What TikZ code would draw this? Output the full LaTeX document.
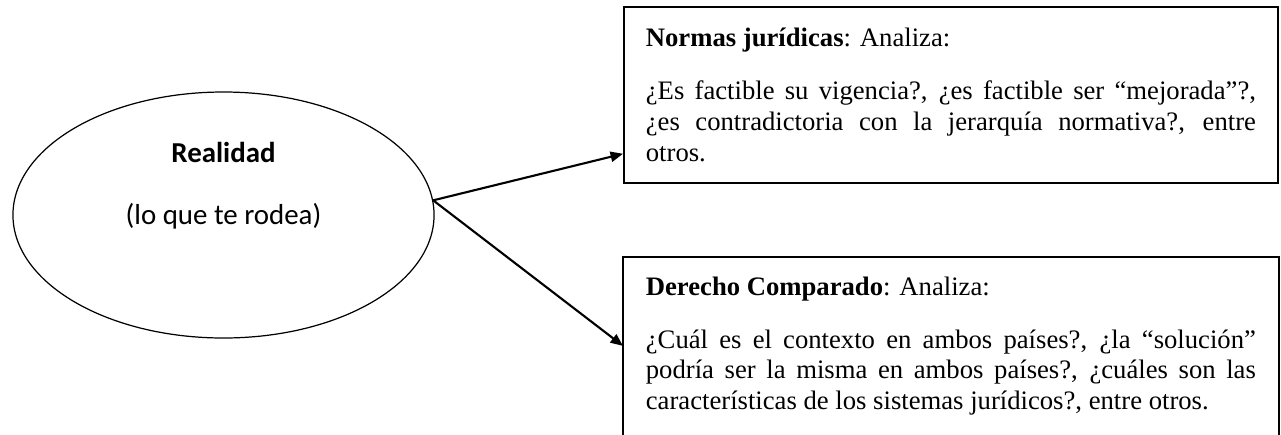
\documentclass[tikz,border=0pt]{standalone}
\usepackage{fontspec}
\setmainfont{Liberation Serif}
\newfontfamily\calibri{Carlito}
\usetikzlibrary{shapes.geometric,arrows.meta}

\begin{document}
\begin{tikzpicture}[x=0.45pt,y=-0.45pt,
    txtbox/.style={draw,line width=0.8pt,anchor=north west,text width=274.5pt,align=justify,
      inner xsep=9.9pt,inner ysep=0pt,minimum height=79.2pt,font=\fontsize{12}{13.8}\selectfont},
    arr/.style={-{Triangle[length=5.6pt,width=4.6pt]},line width=0.95pt}]
  \useasboundingbox (0,0) rectangle (1281,434);
  \node[ellipse,draw,line width=0.55pt,minimum width=189.5pt,minimum height=110.7pt] (real) at (223.5,215) {};
  \node[align=center,font=\calibri\fontsize{13}{15}\selectfont] (lbl) at (223.5,186)
    {\textbf{Realidad}\\[13pt](lo que te rodea)};
  \node[txtbox] (normas) at (623,6) {\textbf{Normas jurídicas}: Analiza:\par\vspace{10pt}
    ¿Es factible su vigencia?, ¿es factible ser “mejorada”?,\linebreak
    ¿es contradictoria con la jerarquía normativa?, entre\linebreak otros.};
  \node[txtbox,draw=none] (derecho) at (623,257) {\textbf{Derecho Comparado}: Analiza:\par\vspace{10pt}
    ¿Cuál es el contexto en ambos países?, ¿la “solución”\linebreak
    podría ser la misma en ambos países?, ¿cuáles son las\linebreak
    características de los sistemas jurídicos?, entre otros.};
  \draw[line width=0.8pt] ([yshift=-20pt]derecho.south west) rectangle (derecho.north east);
  \draw[arr] (real.4) -- ([yshift=-26.5pt]normas.west);
  \draw[arr] (real.4) -- (derecho.west);
\end{tikzpicture}
\end{document}
